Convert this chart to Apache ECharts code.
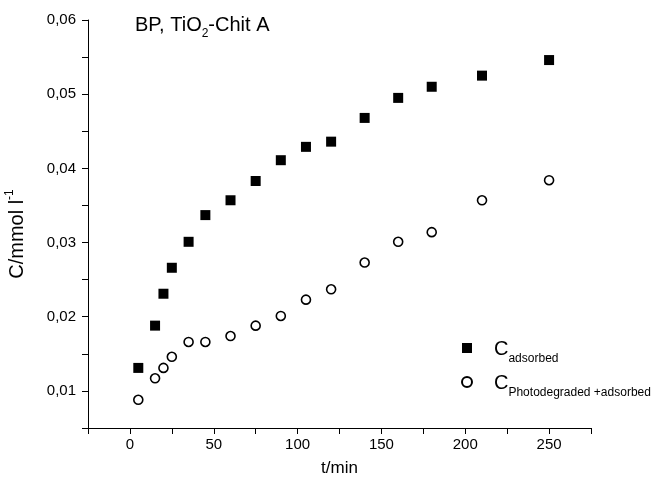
<!DOCTYPE html>
<html>
<head>
<meta charset="utf-8">
<script src="https://cdn.jsdelivr.net/npm/echarts@6/dist/echarts.min.js"></script>
<style>
  html, body { margin: 0; padding: 0; background: #fff; }
  #chart { width: 651px; height: 481px; }
</style>
</head>
<body>
<div id="chart"></div>
<script>
// Sampling times (min)
const times = [5, 15, 20, 25, 35, 45, 60, 75, 90, 105, 120, 140, 160, 180, 210, 250];
// Concentration adsorbed (mmol/l)
const adsorbed = [0.0131, 0.0188, 0.0231, 0.0266, 0.0301, 0.0337, 0.0357, 0.0383,
                  0.0411, 0.0429, 0.0436, 0.0468, 0.0495, 0.0510, 0.0525, 0.0546];
// Concentration photodegraded + adsorbed (mmol/l)
const photoAdsorbed = [0.0088, 0.0117, 0.0131, 0.0146, 0.0166, 0.0166, 0.0174, 0.0188,
                       0.0201, 0.0223, 0.0237, 0.0273, 0.0301, 0.0314, 0.0357, 0.0384];

const pairs = (xs, ys) => xs.map((x, i) => [x, ys[i]]);
const FONT = 'Liberation Sans, Arial, sans-serif';

const chart = echarts.init(document.getElementById('chart'), null, { renderer: 'canvas' });

chart.setOption({
  backgroundColor: '#ffffff',
  animation: false,
  grid: { left: 88, right: 60, top: 20, bottom: 53, containLabel: false, outerBoundsMode: 'none' },
  title: {
    text: '{n|BP, TiO}{s|2}{n|-Chit A}',
    left: 130, top: 8,
    textStyle: {
      rich: {
        n: { fontFamily: FONT, fontSize: 20, fontWeight: 'normal', color: '#000', verticalAlign: 'bottom', lineHeight: 22 },
        s: { fontFamily: FONT, fontSize: 12, fontWeight: 'normal', color: '#000', verticalAlign: 'bottom', padding: [0, 0, -5, 0], lineHeight: 22 }
      }
    }
  },
  legend: {
    orient: 'vertical',
    left: 456, top: 334,
    itemWidth: 10, itemHeight: 10, itemGap: 8,
    data: ['adsorbed', 'Photodegraded +adsorbed'],
    formatter: name => '{c|C}{s|' + name + '}',
    textStyle: {
      padding: [0, 0, 0, 17],
      rich: {
        c: { fontFamily: FONT, fontSize: 20, color: '#000', verticalAlign: 'bottom', lineHeight: 22 },
        s: { fontFamily: FONT, fontSize: 12, color: '#000', verticalAlign: 'bottom', padding: [0, 0, -6, 0], lineHeight: 22 }
      }
    }
  },
  xAxis: {
    type: 'value',
    min: -25, max: 275, interval: 25,
    name: 't/min',
    nameLocation: 'middle', nameGap: 32,
    nameTextStyle: { fontFamily: FONT, fontSize: 17, color: '#000' },
    axisLine: { show: true, onZero: false, lineStyle: { color: '#000', width: 1 } },
    axisTick: { show: true, inside: false, length: 6, lineStyle: { color: '#000' } },
    axisLabel: {
      fontFamily: FONT, fontSize: 15, color: '#000', margin: 9,
      formatter: v => (v % 50 === 0 ? String(v) : '')
    },
    splitLine: { show: false }
  },
  yAxis: {
    type: 'value',
    min: 0.005, max: 0.06, interval: 0.005,
    name: '{t|C/mmol l}{p|-1}',
    nameLocation: 'middle', nameGap: 57, nameRotate: 90,
    nameTextStyle: {
      padding: [0, 20, 0, 0],
      rich: {
        t: { fontFamily: FONT, fontSize: 20, color: '#000', verticalAlign: 'top', lineHeight: 24 },
        p: { fontFamily: FONT, fontSize: 12, color: '#000', verticalAlign: 'top', padding: [-3, 0, 0, 0], lineHeight: 24 }
      }
    },
    axisLine: { show: true, onZero: false, lineStyle: { color: '#000', width: 1 } },
    axisTick: { show: true, inside: false, length: 6, lineStyle: { color: '#000' } },
    axisLabel: {
      fontFamily: FONT, fontSize: 15, color: '#000', margin: 12,
      formatter: v => (Math.round(v * 1000) % 10 === 0 ? v.toFixed(2).replace('.', ',') : '')
    },
    splitLine: { show: false }
  },
  series: [
    {
      name: 'adsorbed',
      type: 'scatter',
      symbol: 'rect', symbolSize: 10,
      itemStyle: { color: '#000', opacity: 1 },
      data: pairs(times, adsorbed)
    },
    {
      name: 'Photodegraded +adsorbed',
      type: 'scatter',
      symbol: 'circle', symbolSize: 9,
      itemStyle: { color: '#fff', borderColor: '#000', borderWidth: 1.6, opacity: 1 },
      data: pairs(times, photoAdsorbed)
    }
  ]
});
</script>
</body>
</html>
